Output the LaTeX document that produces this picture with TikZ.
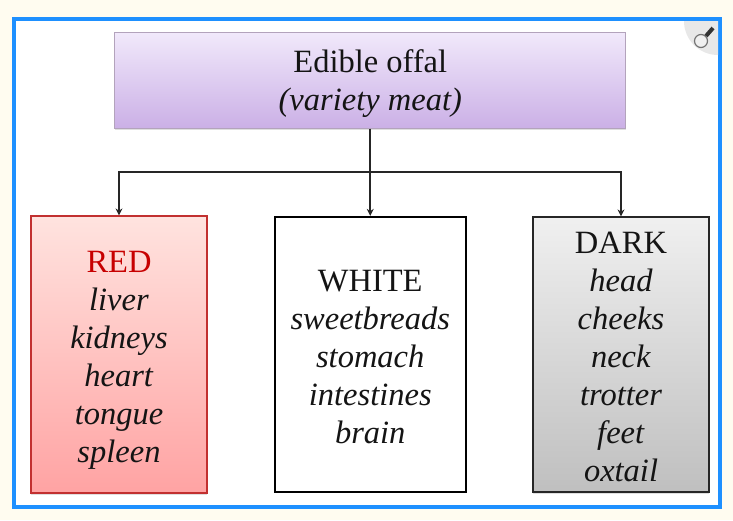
\documentclass[tikz,border=0pt]{standalone}
\usepackage{fontspec}
\setmainfont{Liberation Serif}
\usetikzlibrary{arrows.meta,shadows}
\definecolor{pagecream}{HTML}{FFFCF0}
\definecolor{framemain}{HTML}{1E90FF}
\definecolor{purpletop}{HTML}{F1E9FB}
\definecolor{purplebot}{HTML}{CBB0E6}
\definecolor{purpleline}{HTML}{B3A3BC}
\definecolor{redtop}{HTML}{FFE3DF}
\definecolor{redbot}{HTML}{FFA3A3}
\definecolor{redline}{HTML}{C23030}
\newcommand{\toppad}[1]{\rule{0pt}{#1pt}}
\tikzset{
	offalbox/.style={rectangle, inner sep=0pt, align=center, text=black!92, font=\fontsize{32.5}{38}\selectfont, drop shadow={shadow xshift=0pt, shadow yshift=-1.5pt, opacity=0.25}},
	link/.style={line width=1.7pt, color=black!85},
	linkarrow/.style={link, -{Stealth[length=7pt,width=7pt]}}
}
\begin{document}
\begin{tikzpicture}[x=1pt,y=-1pt]
			%%%%% START %%%%%
			
			\useasboundingbox (0, 0) rectangle (733, 520);
			\fill[pagecream] (0, 0) rectangle (733, 520);
			\draw[line width=4pt, color=framemain, fill=white] (14, 19) rectangle (720, 507);
			
			\begin{scope}
				\clip (16, 21) rectangle (718, 505);
				\fill[black!9] (718, 21) circle (34);
			\end{scope}
			\draw[line width=1.2pt, color=black!55, fill=black!6] (701, 41) circle (6.5);
			\draw[line width=4pt, color=black!80] (706, 36) -- (713, 28);
			
			\node[offalbox, minimum width=511pt, minimum height=96pt, line width=1pt, draw=purpleline, top color=purpletop, bottom color=purplebot] (edible) at (370.25, 80) {\toppad{30}Edible offal\\\textit{(variety meat)}};
			
			\node[offalbox, minimum width=176pt, minimum height=277pt, line width=1.2pt, draw=redline, top color=redtop, bottom color=redbot] (redbox) at (119, 354.5) {\toppad{32}\textcolor{red!78!black}{RED}\\\textit{liver}\\\textit{kidneys}\\\textit{heart}\\\textit{tongue}\\\textit{spleen}};
			\node[offalbox, minimum width=191pt, minimum height=275pt, line width=1.8pt, draw=black, fill=white, drop shadow={opacity=0}] (whitebox) at (370.25, 354.25) {\toppad{26}WHITE\\\textit{sweetbreads}\\\textit{stomach}\\\textit{intestines}\\\textit{brain}};
			\node[offalbox, minimum width=176pt, minimum height=275pt, line width=1.2pt, draw=black!85, top color=black!6, bottom color=black!25] (darkbox) at (621, 354.5) {\toppad{26}DARK\\\textit{head}\\\textit{cheeks}\\\textit{neck}\\\textit{trotter}\\\textit{feet}\\\textit{oxtail}};
			
			\coordinate (fork) at (370.25, 172);
			\draw[linkarrow] (edible.south) -- (whitebox.north);
			\draw[linkarrow] (fork) -| (redbox.north);
			\draw[linkarrow] (fork) -| (darkbox.north);
			
			%%%%% END %%%%%
		\end{tikzpicture}
\end{document}
